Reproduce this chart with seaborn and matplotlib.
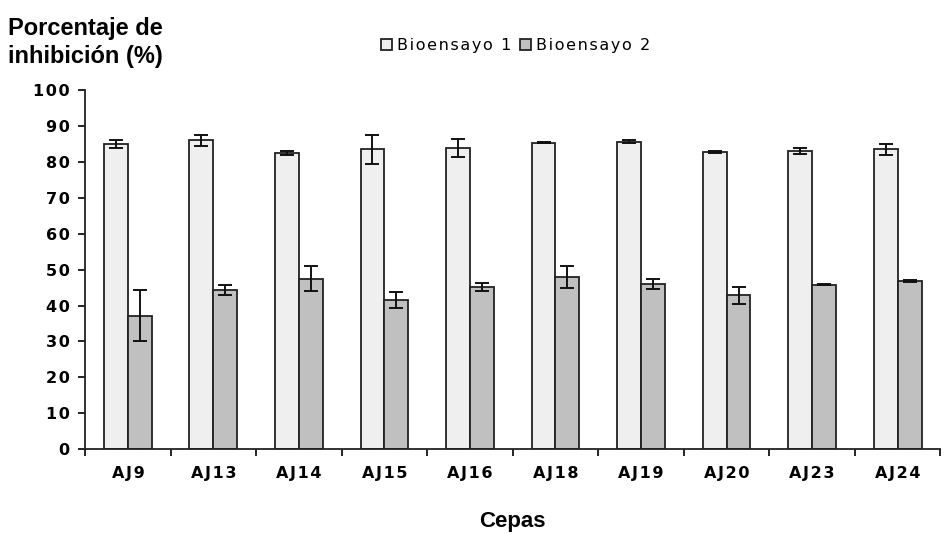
import numpy as np
import pandas as pd
import seaborn as sns
import matplotlib.pyplot as plt
from matplotlib.ticker import MultipleLocator, FuncFormatter

# Datos
cepas = ["AJ9", "AJ13", "AJ14", "AJ15", "AJ16", "AJ18", "AJ19", "AJ20", "AJ23", "AJ24"]
bio1 = [85.0, 86.0, 82.6, 83.5, 84.0, 85.4, 85.6, 82.8, 83.0, 83.5]
bio1_err = [1.0, 1.5, 0.6, 4.0, 2.5, 0.2, 0.4, 0.2, 0.8, 1.5]
bio2 = [37.2, 44.3, 47.5, 41.5, 45.1, 48.0, 46.0, 42.9, 45.8, 46.9]
bio2_err = [7.2, 1.4, 3.4, 2.2, 1.1, 3.0, 1.3, 2.4, 0.2, 0.2]
series = ["Bioensayo 1", "Bioensayo 2"]

df = pd.DataFrame({
    "cepa": cepas * 2,
    "serie": [series[0]] * len(cepas) + [series[1]] * len(cepas),
    "valor": bio1 + bio2,
    "err": bio1_err + bio2_err,
})

HAIR = "\u200a"


def espaciar(s):
    # texto con letras algo separadas, como en el original
    return HAIR.join(s)


sns.set_theme(style="white")
plt.rcParams["font.family"] = ["DejaVu Sans"]
plt.rcParams["text.color"] = "black"
plt.rcParams["xtick.color"] = "black"
plt.rcParams["ytick.color"] = "black"
plt.rcParams["axes.labelcolor"] = "black"

fig = plt.figure(figsize=(9.46, 5.34), dpi=100)
ax = fig.add_axes([0.090, 0.159, 0.904, 0.672])

ax = sns.barplot(data=df, x="cepa", y="valor", hue="serie", errorbar=None,
                 palette=["#efefef", "#c0c0c0"], width=0.56, edgecolor="#222222",
                 linewidth=1.3, ax=ax, legend=True)

# barras de error a partir de los rectángulos dibujados
for cont, s in zip(ax.containers, series):
    sub = df[df["serie"] == s]
    xs = [p.get_x() + p.get_width() / 2 for p in cont.patches]
    ax.errorbar(xs, sub["valor"], yerr=sub["err"], fmt="none", ecolor="#111111",
                elinewidth=1.4, capsize=5, capthick=1.4, zorder=5)

ax.set_ylim(0, 100)
ax.set_xlim(-0.5, len(cepas) - 0.5)
ax.yaxis.set_major_locator(MultipleLocator(10))
ax.yaxis.set_major_formatter(FuncFormatter(lambda v, p: espaciar(f"{v:.0f}")))
ax.set_xticks(range(len(cepas)))
ax.set_xticklabels([espaciar(c) for c in cepas], fontsize=11.5, fontweight="bold")
ax.set_xticks(np.arange(-0.5, len(cepas), 1.0), minor=True)
ax.tick_params(axis="x", which="major", length=0, pad=12)
ax.tick_params(axis="x", which="minor", length=5, width=1.2, direction="out", bottom=True)
ax.tick_params(axis="y", length=5, width=1.2, direction="out", left=True, labelsize=11.5, pad=6)
for t in ax.get_yticklabels():
    t.set_fontweight("bold")

sns.despine(ax=ax)
for sp in ["left", "bottom"]:
    ax.spines[sp].set_color("#222222")
    ax.spines[sp].set_linewidth(1.3)

ax.set_xlabel("Cepas", fontsize=16, fontweight="bold", labelpad=22,
              family=["Liberation Sans", "DejaVu Sans"])
ax.set_ylabel("")
fig.text(0.008, 0.872, "Porcentaje de\ninhibición (%)", fontsize=17, fontweight="bold",
         ha="left", va="bottom", linespacing=1.3, family=["Liberation Sans", "DejaVu Sans"])

leg = ax.legend(loc="center", bbox_to_anchor=(0.545, 0.915), bbox_transform=fig.transFigure,
                ncol=2, frameon=False, fontsize=11.5, handlelength=0.7, handleheight=0.7,
                handletextpad=0.3, columnspacing=0.5, title=None)
for t in leg.get_texts():
    t.set_text(espaciar(t.get_text()))

fig.savefig("out.png", dpi=100)
